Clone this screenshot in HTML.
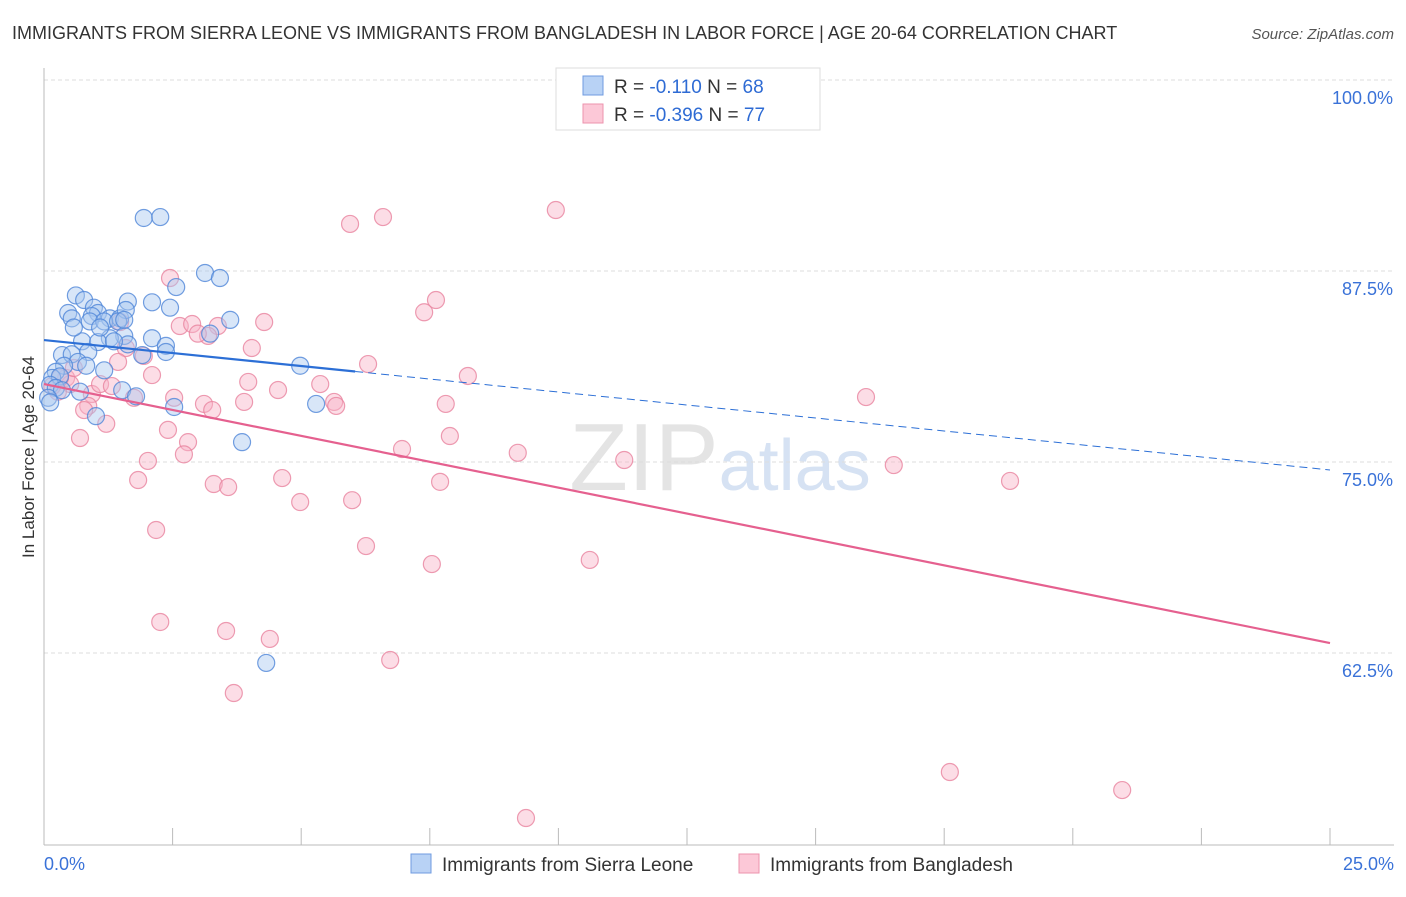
<!DOCTYPE html>
<html><head><meta charset="utf-8"><style>
body{margin:0;background:#fff;font-family:"Liberation Sans",sans-serif;}
svg text{font-family:"Liberation Sans",sans-serif;}
</style></head><body>
<svg id="chart" width="1406" height="892" viewBox="0 0 1406 892" xmlns="http://www.w3.org/2000/svg">
<text x="12" y="39" font-size="18" fill="#333">IMMIGRANTS FROM SIERRA LEONE VS IMMIGRANTS FROM BANGLADESH IN LABOR FORCE | AGE 20-64 CORRELATION CHART</text>
<text x="1394" y="39" font-size="15" fill="#555" text-anchor="end" font-style="italic">Source: ZipAtlas.com</text>
<text x="720" y="490" font-size="96" text-anchor="middle" fill="#e4e4e4" font-family="Liberation Serif,serif">ZIP<tspan fill="#d6e2f3" font-family="Liberation Sans,sans-serif" font-size="72">atlas</tspan></text>
<g id="grid"></g>
<g id="axes"></g>
<g id="pts"></g>
<g id="trends"></g>
<text transform="translate(34,457) rotate(-90)" font-size="17" fill="#333" text-anchor="middle">In Labor Force | Age 20-64</text>
<g>
<rect x="556" y="68" width="264" height="62" fill="#fff" stroke="#ddd"/>
<rect x="583" y="76" width="20" height="19" fill="#b8d2f5" stroke="#6f9be0"/>
<rect x="583" y="104" width="20" height="19" fill="#fcc8d7" stroke="#ec93ae"/>
<text x="614" y="93" font-size="19" fill="#333">R = <tspan fill="#2e6bd4"> -0.110</tspan>   N = <tspan fill="#2e6bd4">68</tspan></text>
<text x="614" y="121" font-size="19" fill="#333">R = <tspan fill="#2e6bd4">-0.396</tspan>   N = <tspan fill="#2e6bd4">77</tspan></text>
</g>
<g>
<rect x="411" y="854" width="20" height="19" fill="#b8d2f5" stroke="#6f9be0"/>
<text x="442" y="871" font-size="19" fill="#333">Immigrants from Sierra Leone</text>
<rect x="739" y="854" width="20" height="19" fill="#fcc8d7" stroke="#ec93ae"/>
<text x="770" y="871" font-size="19" fill="#333">Immigrants from Bangladesh</text>
</g>
</svg>
<script>
const xTicks=[0,2.5,5,7.5,10,12.5,15,17.5,20,22.5,25];
const yTicks=[100,87.5,75,62.5];
const yTickLabels=["100.0%","87.5%","75.0%","62.5%"];
const xEndLabels=["0.0%","25.0%"];
const blueX=[1.94,2.26,3.13,3.42,2.57,2.10,2.45,1.63,0.62,0.78,0.47,0.54,0.97,1.05,0.93,1.28,1.48,1.59,0.89,1.17,1.44,3.62,3.23,2.10,1.56,1.28,0.74,1.05,1.63,2.37,2.37,0.58,0.35,0.54,0.86,0.66,0.82,1.17,0.39,0.23,0.16,0.31,4.98,0.12,0.23,0.35,0.70,0.08,0.12,1.52,1.79,2.53,5.29,1.01,3.85,4.32,1.91,1.36,1.56,1.09];
const blueY=[90.97,91.03,87.37,87.04,86.45,85.45,85.1,85.5,85.9,85.6,84.75,84.4,85.1,84.75,84.55,84.4,84.4,84.95,84.2,84.2,84.2,84.3,83.4,83.1,83.25,83.1,82.9,82.85,82.7,82.6,82.2,83.8,82.0,82.05,82.2,81.55,81.3,81.0,81.3,80.9,80.5,80.6,81.3,80.05,79.85,79.7,79.6,79.2,78.9,79.7,79.3,78.6,78.8,78.0,76.3,61.85,82.0,82.9,84.3,83.8];
const pinkX=[2.45,5.95,6.59,9.95,7.62,7.39,4.28,2.64,2.88,3.38,3.19,2.99,4.04,1.48,1.59,1.94,1.44,6.30,8.24,2.10,3.97,5.37,4.55,0.43,0.51,0.27,0.93,2.53,3.11,3.27,3.89,5.64,5.68,7.81,15.98,0.86,0.78,1.21,0.70,2.41,2.80,2.72,2.02,6.96,7.89,9.21,11.28,16.52,1.83,4.63,3.30,3.58,7.70,18.78,4.98,5.99,2.18,6.26,7.54,10.61,2.26,3.54,4.39,6.73,3.69,17.61,20.96,9.37,0.16,0.31,1.09,1.32,1.75,0.58];
const pinkY=[87.04,90.58,91.03,91.49,85.6,84.8,84.16,83.9,84.03,83.9,83.25,83.4,82.46,84.16,82.46,81.94,81.55,81.41,80.63,80.69,80.24,80.1,79.71,80.5,80.1,79.6,79.45,79.2,78.8,78.4,78.93,78.93,78.67,78.8,79.25,78.67,78.4,77.5,76.57,77.1,76.3,75.5,75.07,75.85,76.7,75.6,75.13,74.8,73.82,73.95,73.56,73.36,73.7,73.76,72.38,72.5,70.55,69.5,68.32,68.59,64.53,63.94,63.42,62.04,59.88,54.71,53.53,51.7,79.97,80.5,80.1,79.97,79.2,81.15];
const blueTrend=[82.98,74.48];
const blueSolidEnd=6.05;
const pinkTrend=[80.1,63.15];

const NS="http://www.w3.org/2000/svg";
const X=v=>44+v/25*1286;
const Y=v=>80+(100-v)/12.5*191;
function mk(tag,attrs,parent){const e=document.createElementNS(NS,tag);for(const k in attrs)e.setAttribute(k,attrs[k]);parent.appendChild(e);return e;}
const grid=document.getElementById('grid'),axes=document.getElementById('axes'),pts=document.getElementById('pts'),tr=document.getElementById('trends');
yTicks.forEach((t,i)=>{
 const l=mk('line',{x1:44,x2:1394,y1:Y(t),y2:Y(t),stroke:'#ddd','stroke-dasharray':'4,3'},grid);
 
 
 const tx=mk('text',{x:1393,y:Y(t)+24,'font-size':18,fill:'#3a72d8','text-anchor':'end'},axes);
 tx.textContent=yTickLabels[i];
 
 
});
const ax=mk('line',{x1:44,x2:44,y1:68,y2:845,stroke:'#bbb'},axes);


const bx=mk('line',{x1:44,x2:1394,y1:845,y2:845,stroke:'#bbb'},axes);


xTicks.forEach(t=>{
 const l=mk('line',{x1:X(t),x2:X(t),y1:828,y2:845,stroke:'#bbb'},axes);
 
 
});
[[0,'start',44],[25,'end',1394]].forEach((d,i)=>{
 const tx=mk('text',{x:d[2],y:870,'font-size':18,fill:'#3a72d8','text-anchor':d[1]},axes);
 tx.textContent=xEndLabels[i];
 
 
});
function dots(xs,ys,fill,stroke,name){
 xs.forEach((v,i)=>{
  const c=mk('circle',{cx:X(v),cy:Y(ys[i]),r:8.5,fill:fill,'fill-opacity':0.45,stroke:stroke,'stroke-width':1.2,'stroke-opacity':0.8},pts);
  
  
 });
}
dots(pinkX,pinkY,'#f8b3c8','#e8839f','bangladesh-point');
dots(blueX,blueY,'#a9c7f0','#4f86d8','sierra-leone-point');
const bSlope=(blueTrend[1]-blueTrend[0])/25;
const b1=mk('line',{x1:X(0),y1:Y(blueTrend[0]),x2:X(blueSolidEnd),y2:Y(blueTrend[0]+bSlope*blueSolidEnd),stroke:'#2c6fd6','stroke-width':2.2},tr);


const b2=mk('line',{x1:X(blueSolidEnd),y1:Y(blueTrend[0]+bSlope*blueSolidEnd),x2:X(25),y2:Y(blueTrend[1]),stroke:'#2c6fd6','stroke-width':1,'stroke-dasharray':'8,5'},tr);


const p1=mk('line',{x1:X(0),y1:Y(pinkTrend[0]),x2:X(25),y2:Y(pinkTrend[1]),stroke:'#e5608f','stroke-width':2.2},tr);


</script>
</body></html>
